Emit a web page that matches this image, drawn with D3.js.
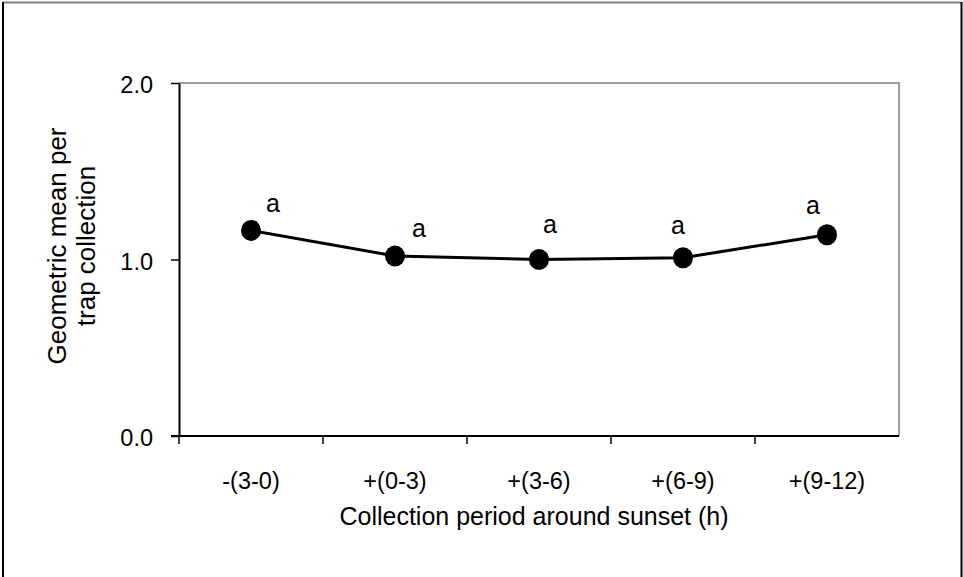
<!DOCTYPE html>
<html>
<head>
<meta charset="utf-8">
<script src="https://cdn.jsdelivr.net/npm/d3@7"></script>
<style>
  html, body { margin: 0; padding: 0; background: #fff; }
  svg { display: block; font-family: "Liberation Sans", Arial, sans-serif; }
</style>
</head>
<body>
<svg id="chart" width="963" height="577"></svg>
<script>
// ---- data ----
const categories = ["-(3-0)", "+(0-3)", "+(3-6)", "+(6-9)", "+(9-12)"];
const values = [1.165, 1.02, 1.0, 1.01, 1.14];
const letters = ["a", "a", "a", "a", "a"];
const yTicks = [0.0, 1.0, 2.0];
const xTitle = "Collection period around sunset (h)";
const yTitleLines = ["Geometric mean per", "trap collection"];

// ---- layout (annotation offsets in px, separate from data) ----
const letterDx = [22, 24, 11, -5, -14];
const letterDy = [-18, -19, -27, -24, -21];

const svg = d3.select("#chart");
const plot = { left: 179, right: 899, top: 83, bottom: 436 };

// outer frame
svg.append("line").attr("x1", 3).attr("x2", 962).attr("y1", 2.5).attr("y2", 2.5)
  .attr("stroke", "#808080").attr("stroke-width", 2);
svg.append("line").attr("x1", 3).attr("x2", 3).attr("y1", 2).attr("y2", 577)
  .attr("stroke", "#000").attr("stroke-width", 2);
svg.append("line").attr("x1", 961.5).attr("x2", 961.5).attr("y1", 2).attr("y2", 577)
  .attr("stroke", "#000").attr("stroke-width", 2);

const x = d3.scaleBand().domain(categories).range([plot.left, plot.right]);
const y = d3.scaleLinear().domain([0, 2]).range([plot.bottom, plot.top]);

// plot area top/right border (gray)
svg.append("path")
  .attr("d", `M${plot.left},${plot.top}H${plot.right}V${plot.bottom}`)
  .attr("fill", "none").attr("stroke", "#808080").attr("stroke-width", 1.5);

// y axis
const yAxis = d3.axisLeft(y).tickValues(yTicks).tickFormat(d3.format(".1f"))
  .tickSizeInner(8).tickSizeOuter(0).tickPadding(18);
const gy = svg.append("g").attr("transform", `translate(${plot.left},0)`).call(yAxis);
gy.select(".domain").attr("stroke", "#000").attr("stroke-width", 2);
gy.selectAll(".tick line").attr("stroke", "#000").attr("stroke-width", 1.5);
gy.selectAll(".tick text").attr("font-size", 23.5).attr("fill", "#000").attr("dy", "0.42em")
  .attr("font-family", "Liberation Sans, Arial, sans-serif");

// x axis: ticks at band boundaries, labels at band centers
const bounds = categories.map(c => x(c));
const gx = svg.append("g");
gx.append("line").attr("x1", plot.left - 8).attr("x2", plot.right).attr("y1", plot.bottom).attr("y2", plot.bottom)
  .attr("stroke", "#000").attr("stroke-width", 2);
gx.selectAll("line.tk").data(bounds).enter().append("line").attr("class", "tk")
  .attr("x1", d => d).attr("x2", d => d).attr("y1", plot.bottom).attr("y2", plot.bottom + 8)
  .attr("stroke", "#000").attr("stroke-width", 1.5);
gx.selectAll("text").data(categories).enter().append("text")
  .attr("x", d => x(d) + x.bandwidth() / 2).attr("y", 489)
  .attr("text-anchor", "middle").attr("font-size", 23.5).attr("fill", "#000")
  .text(d => d);

// axis titles
svg.append("text").attr("x", 534).attr("y", 525).attr("text-anchor", "middle")
  .attr("font-size", 25).attr("fill", "#000").text(xTitle);
const yt = svg.append("text").attr("transform", "translate(0,246) rotate(-90)")
  .attr("text-anchor", "middle").attr("font-size", 26).attr("fill", "#000");
yTitleLines.forEach((t, i) => {
  yt.append("tspan").attr("x", 0).attr("y", 66 + i * 29).text(t);
});

// line + markers
const cx = (d, i) => x(categories[i]) + x.bandwidth() / 2;
const line = d3.line().x((d, i) => cx(d, i)).y(d => y(d));
svg.append("path").datum(values).attr("d", line)
  .attr("fill", "none").attr("stroke", "#000").attr("stroke-width", 3);
svg.selectAll("ellipse.pt").data(values).enter().append("ellipse").attr("class", "pt")
  .attr("cx", cx).attr("cy", d => y(d)).attr("rx", 10).attr("ry", 10.5).attr("fill", "#000");

// significance letters
svg.selectAll("text.lt").data(letters).enter().append("text").attr("class", "lt")
  .attr("x", (d, i) => cx(d, i) + letterDx[i])
  .attr("y", (d, i) => y(values[i]) + letterDy[i])
  .attr("text-anchor", "middle").attr("font-size", 25).attr("fill", "#000")
  .text(d => d);
</script>
</body>
</html>
